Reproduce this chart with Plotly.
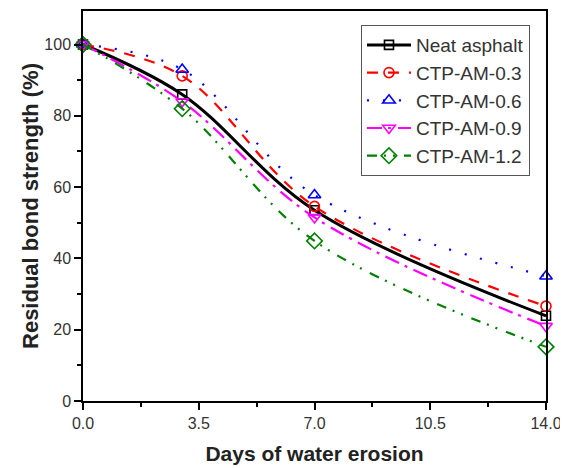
import plotly.graph_objects as go

days = [0, 3, 7, 14]
neat = [100, 86.0, 53.5, 23.9]
am03 = [100, 91.2, 54.6, 26.6]
am06 = [100, 93.0, 57.8, 35.0]
am09 = [100, 84.0, 51.5, 21.0]
am12 = [100, 82.0, 44.9, 15.2]

x_ticks = [0, 3.5, 7, 10.5, 14]
x_ticktext = ["0.0", "3.5", "7.0", "10.5", "14.0"]
y_ticks = [0, 20, 40, 60, 80, 100]

series = [
    ("Neat asphalt", neat, "black", "solid", 3, "square-open", 9),
    ("CTP-AM-0.3", am03, "#ff0000", "11px,10px", 2.2, "circle-open", 10),
    ("CTP-AM-0.6", am06, "#0000ff", "2px,14px", 2.2, "triangle-up-open", 11),
    ("CTP-AM-0.9", am09, "#ff00ff", "15px,6px,3px,7px", 2.2, "triangle-down-open", 11),
    ("CTP-AM-1.2", am12, "#008000", "10px,7px,2px,7px,2px,9px", 2.2, "diamond-open", 12),
]

fig = go.Figure()
for name, vals, color, dash, w, sym, msize in series:
    fig.add_trace(go.Scatter(
        x=days, y=vals, name=name, mode="lines+markers",
        line=dict(color=color, dash=dash, width=w, shape="spline", smoothing=1.0),
        marker=dict(symbol=sym, size=msize, color=color, line=dict(width=1.6, color=color)),
        cliponaxis=False,
    ))

fig.update_layout(
    width=560, height=460,
    margin=dict(l=75, r=22, t=1, b=67),
    paper_bgcolor="white", plot_bgcolor="white",
    font=dict(family="Liberation Sans, Arial, sans-serif", color="#333"),
    showlegend=True,
    legend=dict(
        x=0.9654, y=0.964, xanchor="right", yanchor="top",
        bgcolor="white", bordercolor="#555", borderwidth=1,
        font=dict(size=19, color="#333"),
        itemwidth=44, tracegroupgap=0,
    ),
    xaxis=dict(
        range=[0, 14], tickvals=x_ticks, ticktext=x_ticktext,
        showline=True, linecolor="black", linewidth=1.5, mirror=True,
        ticks="outside", ticklen=7, tickwidth=1.5, tickcolor="black",
        minor=dict(tickvals=[1.75, 5.25, 8.75, 12.25], ticks="outside", ticklen=4, tickwidth=1.5, tickcolor="black"),
        showgrid=False, zeroline=False,
        tickfont=dict(size=16, color="#333"),
        title=dict(text="<b>Days of water erosion</b>", font=dict(size=21, color="#222"), standoff=15),
    ),
    yaxis=dict(
        range=[0, 109.4], tickvals=y_ticks,
        showline=True, linecolor="black", linewidth=1.5, mirror=True,
        ticks="outside", ticklen=7, tickwidth=1.5, tickcolor="black",
        minor=dict(tickvals=[10, 30, 50, 70, 90], ticks="outside", ticklen=4, tickwidth=1.5, tickcolor="black"),
        showgrid=False, zeroline=False,
        tickfont=dict(size=16, color="#333"),
        title=dict(text="<b>Residual bond strength (%)</b>", font=dict(size=22, color="#222"), standoff=0),
    ),
)

fig.write_html("out.html")
